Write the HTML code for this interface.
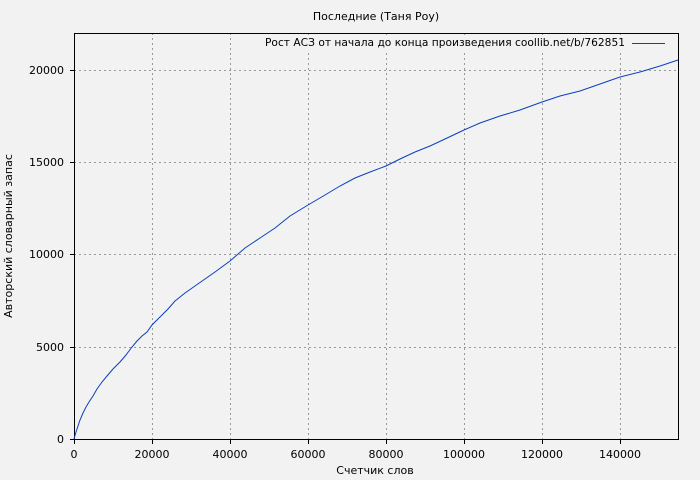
<!DOCTYPE html>
<html><head><meta charset="utf-8"><style>
html,body{margin:0;padding:0;background:#f2f2f2;}
svg{display:block;font-family:"DejaVu Sans","Liberation Sans",sans-serif;font-size:11px;}
</style></head><body>
<svg width="700" height="480" viewBox="0 0 700 480" xmlns="http://www.w3.org/2000/svg">
<rect width="700" height="480" fill="#f2f2f2"/>
<g stroke="#999" stroke-width="1" stroke-dasharray="2,3" fill="none">
<line x1="152.5" y1="33" x2="152.5" y2="439"/>
<line x1="230.5" y1="33" x2="230.5" y2="439"/>
<line x1="308.5" y1="33" x2="308.5" y2="439"/>
<line x1="386.5" y1="33" x2="386.5" y2="439"/>
<line x1="464.5" y1="33" x2="464.5" y2="439"/>
<line x1="542.5" y1="33" x2="542.5" y2="439"/>
<line x1="620.5" y1="33" x2="620.5" y2="439"/>
<line x1="74" y1="347.5" x2="678" y2="347.5"/>
<line x1="74" y1="254.5" x2="678" y2="254.5"/>
<line x1="74" y1="162.5" x2="678" y2="162.5"/>
<line x1="74" y1="70.5" x2="678" y2="70.5"/>
</g>
<rect x="262" y="36" width="414" height="16" fill="#f2f2f2"/>
<g stroke="#000" stroke-width="1">
<rect x="74.5" y="33.5" width="604" height="406" fill="none"/>
<line x1="70" y1="439.5" x2="74" y2="439.5"/><line x1="70" y1="347.5" x2="74" y2="347.5"/>
<line x1="70" y1="254.5" x2="74" y2="254.5"/><line x1="70" y1="162.5" x2="74" y2="162.5"/>
<line x1="70" y1="70.5" x2="74" y2="70.5"/>
<line x1="74.5" y1="439" x2="74.5" y2="444"/><line x1="152.5" y1="439" x2="152.5" y2="444"/>
<line x1="230.5" y1="439" x2="230.5" y2="444"/><line x1="308.5" y1="439" x2="308.5" y2="444"/>
<line x1="386.5" y1="439" x2="386.5" y2="444"/><line x1="464.5" y1="439" x2="464.5" y2="444"/>
<line x1="542.5" y1="439" x2="542.5" y2="444"/><line x1="620.5" y1="439" x2="620.5" y2="444"/>
</g>
<g text-anchor="end" fill="#000">
<text x="64" y="443">0</text><text x="64" y="351">5000</text><text x="64" y="258">10000</text>
<text x="64" y="166">15000</text><text x="64" y="74">20000</text>
</g>
<g text-anchor="middle" fill="#000">
<text x="74" y="458">0</text><text x="152" y="458">20000</text><text x="230" y="458">40000</text>
<text x="308" y="458">60000</text><text x="386" y="458">80000</text><text x="464" y="458">100000</text>
<text x="542" y="458">120000</text><text x="620" y="458">140000</text>
<text x="376" y="20">Последние (Таня Роу)</text>
<text x="375" y="474">Счетчик слов</text>
<text transform="translate(12,236) rotate(-90)">Авторский словарный запас</text>
</g>
<text x="265" y="46" textLength="360" lengthAdjust="spacingAndGlyphs">Рост АСЗ от начала до конца произведения coollib.net/b/762851</text>
<line x1="632" y1="43.5" x2="665" y2="43.5" stroke="#0a3fc0" stroke-width="1"/>
<polyline fill="none" stroke="#0a3fc0" stroke-width="1" points="74,439 76,432 78,426 80,420 83,413 86,407 89,402 93,396 97,389 102,382 107,376 113,369 120,362 126,355 132,347 137,341 142,336 147,332 152,325 160,317 168,309 175,301 185,293 195,286 205,279 215,272 230,261 245,248 260,238 275,228 290,216 308,205 325,195 340,186 355,178 370,172 386,166 400,159 415,152 430,146 445,139 464,130 480,123 500,116 520,110 542,102 560,96 580,91 600,84 620,77 640,72 660,66 678,60"/>
</svg>
</body></html>
